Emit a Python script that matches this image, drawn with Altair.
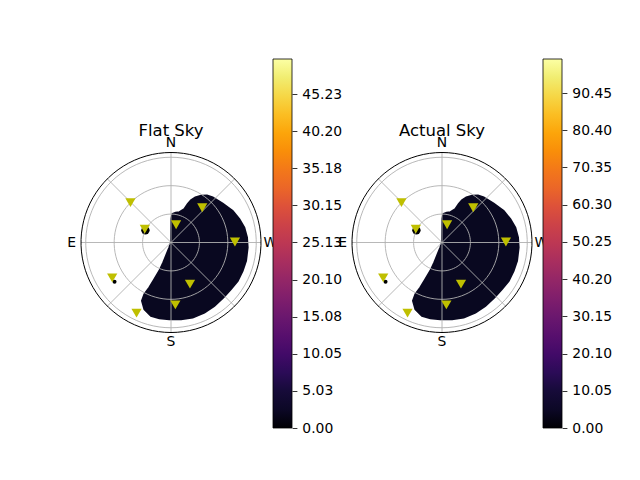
import altair as alt
import pandas as pd

# ---------------- data ----------------
panel_titles = ["Flat Sky", "Actual Sky"]

# markers: azimuth (deg, N through E) and zenith angle (deg)
marker_az = [45.5, 63.0, 344.0, 318.0, 270.5, 204.5, 184.0, 154.0, 121.0]
marker_zen = [60.0, 31.0, 19.5, 49.3, 67.5, 48.3, 66.0, 83.0, 72.4]

# outline of the lit sky region, projected sky plane (x: +west, y: +north), degrees
blob_x = [0.0, 0.3, 1.5, 5.0, 9.0, 14.1, 17.6, 21.1, 25.7, 31.7, 38.0, 44.0, 54.5,
          65.1, 72.1, 77.4, 80.2, 80.9, 79.2, 75.6, 70.4, 63.3, 55.2, 45.7, 35.2,
          22.9, 10.6, -1.8, -12.3, -21.1, -28.1, -30.6, -28.1, -22.9, -17.6, -12.3,
          -8.1, -4.6, -1.8, 0.0]
blob_y = [0.0, 25.0, 30.0, 31.5, 32.0, 35.2, 40.5, 44.7, 47.5, 49.3, 49.5, 47.5, 41.2,
          33.4, 24.6, 15.8, 5.3, -5.3, -19.4, -29.9, -40.5, -49.3, -58.1, -66.9, -73.9,
          -79.2, -80.9, -80.9, -79.9, -77.4, -70.4, -61.6, -54.5, -47.5, -38.7, -29.9,
          -21.1, -12.3, -5.3, 0.0]

# two tiny lit spots
spot_x = [-27.0, -59.6]
spot_y = [12.8, -41.5]

ring_zen = [30, 60, 90]
edge_zen = [95]
spoke_az = [0, 45, 90, 135, 180, 225, 270, 315]
compass_text = ["N", "E", "S", "W"]
compass_az = [0, 90, 180, 270]

cbar_max = [49.97, 99.65]
cbar_ticks = [
    [0.00, 5.03, 10.05, 15.08, 20.10, 25.13, 30.15, 35.18, 40.20, 45.23],
    [0.00, 10.05, 20.10, 30.15, 40.20, 50.25, 60.30, 70.35, 80.40, 90.45],
]

inferno = ["#000004", "#0c0826", "#160b39", "#2b0b57", "#420a68", "#570f6d",
           "#6a176e", "#7f1e6c", "#932667", "#a82e5f", "#bc3754", "#cc4248",
           "#dd513a", "#eb6628", "#f37819", "#f98e09", "#fca50a", "#fbbe23",
           "#f6d746", "#f1ed71", "#fcffa4"]

# ---------------- style / geometry ----------------
FONT = "DejaVu Sans"
RMAX = 95.0      # zenith at outer edge
RPX = 90.0       # outer radius in px
K = RPX / RMAX
H = 369
CY = 183.5       # centre offset from top of plot area
GRID = "#b0b0b0"
BLOB = "#090820"
MARK = "#bfbf00"

blob_df = pd.DataFrame({"bx": blob_x, "by": blob_y, "i": list(range(len(blob_x)))})
spot_df = pd.DataFrame({"sx": spot_x, "sy": spot_y, "k": [0, 1]})
ring_df = pd.DataFrame({"r": ring_zen})
edge_df = pd.DataFrame({"r": edge_zen})
spoke_df = pd.DataFrame({"az": spoke_az})
compass_df = pd.DataFrame({"t": compass_text, "caz": compass_az})
marker_df = pd.DataFrame({"maz": marker_az, "zen": marker_zen})


def circle_layer(df, X, Y, color, width):
    return alt.Chart(df).transform_calculate(
        a="sequence(0, 364, 4)"
    ).transform_flatten(["a"]).transform_calculate(
        cxp="-datum.r*sin(datum.a*PI/180)", cyp="datum.r*cos(datum.a*PI/180)"
    ).mark_line(stroke=color, strokeWidth=width, interpolate="linear").encode(
        x=X("cxp:Q"), y=Y("cyp:Q"), detail="r:N", order="a:Q")


def polar_panel(title, width, cx):
    xs = alt.Scale(domain=[-cx / K, (width - cx) / K], nice=False, zero=False)
    ys = alt.Scale(domain=[-(H - CY) / K, CY / K], nice=False, zero=False)

    def X(f):
        return alt.X(f, scale=xs, axis=None)

    def Y(f):
        return alt.Y(f, scale=ys, axis=None)

    blob = alt.Chart(blob_df).mark_line(
        fill=BLOB, stroke=BLOB
    ).encode(x=X("bx:Q"), y=Y("by:Q"), order="i:Q")

    spot_a = alt.Chart(spot_df).transform_filter("datum.k == 0").mark_circle(
        color="black", opacity=1, size=70).encode(x=X("sx:Q"), y=Y("sy:Q"))
    spot_b = alt.Chart(spot_df).transform_filter("datum.k == 1").mark_circle(
        color="black", opacity=1, size=16).encode(x=X("sx:Q"), y=Y("sy:Q"))

    rings = circle_layer(ring_df, X, Y, GRID, 0.9)

    spokes = alt.Chart(spoke_df).transform_calculate(
        sx0="0", sy0="0",
        sx1=f"-{RMAX}*sin(datum.az*PI/180)",
        sy1=f"{RMAX}*cos(datum.az*PI/180)",
    ).mark_rule(color=GRID, strokeWidth=0.9).encode(
        x=X("sx0:Q"), y=Y("sy0:Q"), x2="sx1:Q", y2="sy1:Q")

    edge = circle_layer(edge_df, X, Y, "black", 1.0)

    compass = alt.Chart(compass_df).transform_calculate(
        tx="-105*sin(datum.caz*PI/180)", ty="105*cos(datum.caz*PI/180)"
    ).mark_text(font=FONT, fontSize=13.9, color="black", align="center",
                baseline="middle").encode(x=X("tx:Q"), y=Y("ty:Q"), text="t:N")

    markers = alt.Chart(marker_df).transform_calculate(
        px="-datum.zen*sin(datum.maz*PI/180)", py="datum.zen*cos(datum.maz*PI/180)"
    ).mark_point(shape="triangle-down", filled=True, color=MARK, opacity=1,
                 size=105).encode(x=X("px:Q"), y=Y("py:Q"))

    ttl = alt.Chart(pd.DataFrame({"tt": [title]})).transform_calculate(
        tx2="0", ty2="112.1"
    ).mark_text(font=FONT, fontSize=16.5, color="black", align="center",
                baseline="alphabetic").encode(x=X("tx2:Q"), y=Y("ty2:Q"), text="tt:N")

    base = alt.layer(blob, spot_a, spot_b)
    grid = alt.layer(spokes, rings, edge)
    top = alt.layer(markers, compass, ttl)
    return alt.layer(base, grid, top).properties(width=width, height=H)


def colorbar(vmax, ticks):
    df = pd.DataFrame({"x0": [0], "x1": [1], "v0": [0.0], "v1": [vmax]})
    grad = alt.Gradient(
        gradient="linear",
        stops=[alt.GradientStop(color=c, offset=i / (len(inferno) - 1)) for i, c in enumerate(inferno)],
        x1=0, y1=1, x2=0, y2=0,
    )
    return alt.Chart(df).mark_rect(fill=grad, stroke="black", strokeWidth=0.8).encode(
        x=alt.X("x0:Q", scale=alt.Scale(domain=[0, 1], nice=False, zero=False), axis=None),
        x2="x1:Q",
        y=alt.Y("v0:Q", scale=alt.Scale(domain=[0, vmax], nice=False, zero=True),
                axis=alt.Axis(orient="right", values=ticks, format=".2f", title=None,
                              grid=False, domain=False, ticks=True, tickColor="black",
                              tickSize=4.9, tickWidth=0.8, labelPadding=4.9,
                              labelFontSize=13.9, labelFont=FONT, labelColor="black",
                              labelOverlap=False, labelFlush=False)),
        y2="v1:Q",
    ).properties(width=19, height=H)


p1 = polar_panel(panel_titles[0], 259, 157)
c1 = colorbar(cbar_max[0], cbar_ticks[0])
p2 = polar_panel(panel_titles[1], 251, 150)
c2 = colorbar(cbar_max[1], cbar_ticks[1])

chart = alt.hconcat(p1, c1, p2, c2, spacing=0, bounds="flush").resolve_scale(
    x="independent", y="independent"
).properties(
    padding={"left": 5, "top": 50, "right": 5, "bottom": 5}
).configure(font=FONT, view=alt.ViewConfig(stroke="transparent"))

chart.save("out.html", embed_options={"renderer": "svg", "actions": False})
